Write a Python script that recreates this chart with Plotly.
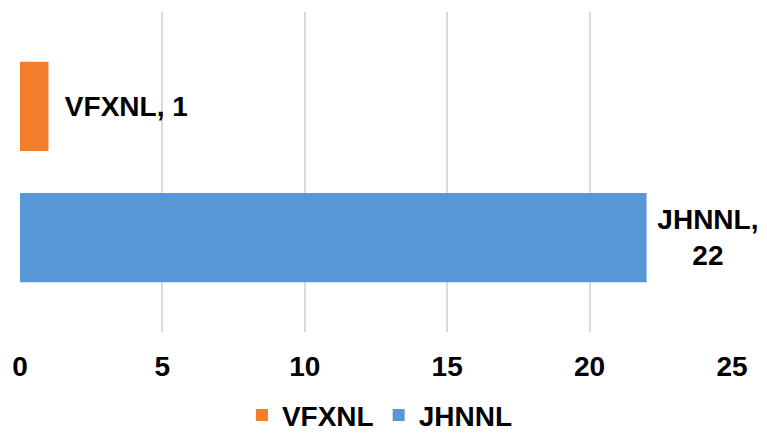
import plotly.graph_objects as go

category = [""]
series_names = ["VFXNL", "JHNNL"]
series_values = [[1], [22]]
series_colors = ["#F27D2A", "#5897D6"]
x_ticks = [0, 5, 10, 15, 20, 25]

FONT = "Liberation Sans, Arial, sans-serif"

fig = go.Figure()
labels = {
    "VFXNL": "\u00a0\u2009VFXNL, %{x}",
    "JHNNL": "\u00a0JHNNL,<br>\u00a0%{x}",
}
for name, vals, col in zip(series_names, series_values, series_colors):
    fig.add_trace(go.Bar(
        name=name, y=category, x=vals, orientation="h",
        marker=dict(color=col, line=dict(width=0)),
        texttemplate=labels[name], textposition="outside",
        textfont=dict(family=FONT, size=28, color="black", weight="bold"),
        constraintext="none", cliponaxis=False,
        hoverinfo="skip",
    ))

fig.update_layout(
    width=759, height=426,
    margin=dict(l=12, r=35, t=4, b=102, autoexpand=False),
    paper_bgcolor="white", plot_bgcolor="white",
    barmode="group", bargap=0.18, bargroupgap=0.32,
    font=dict(family=FONT, size=28, color="black", weight="bold"),
    xaxis=dict(range=[0, 25], tickvals=x_ticks, showgrid=True,
               gridcolor="#D9D9D9", gridwidth=2, zeroline=False,
               showline=False, ticks="", ticklabelstandoff=15, automargin=False,
               tickfont=dict(family=FONT, size=28, color="black", weight="bold")),
    yaxis=dict(autorange="reversed", showticklabels=False, showgrid=False,
               zeroline=False, showline=False, ticks="", automargin=False),
    showlegend=True,
    legend=dict(orientation="h", x=0.49, xanchor="center", xref="container",
                y=-0.26, yanchor="middle", yref="paper",
                font=dict(family=FONT, size=28, color="black", weight="bold"),
                itemclick=False),
)
fig.write_html("out.html")
